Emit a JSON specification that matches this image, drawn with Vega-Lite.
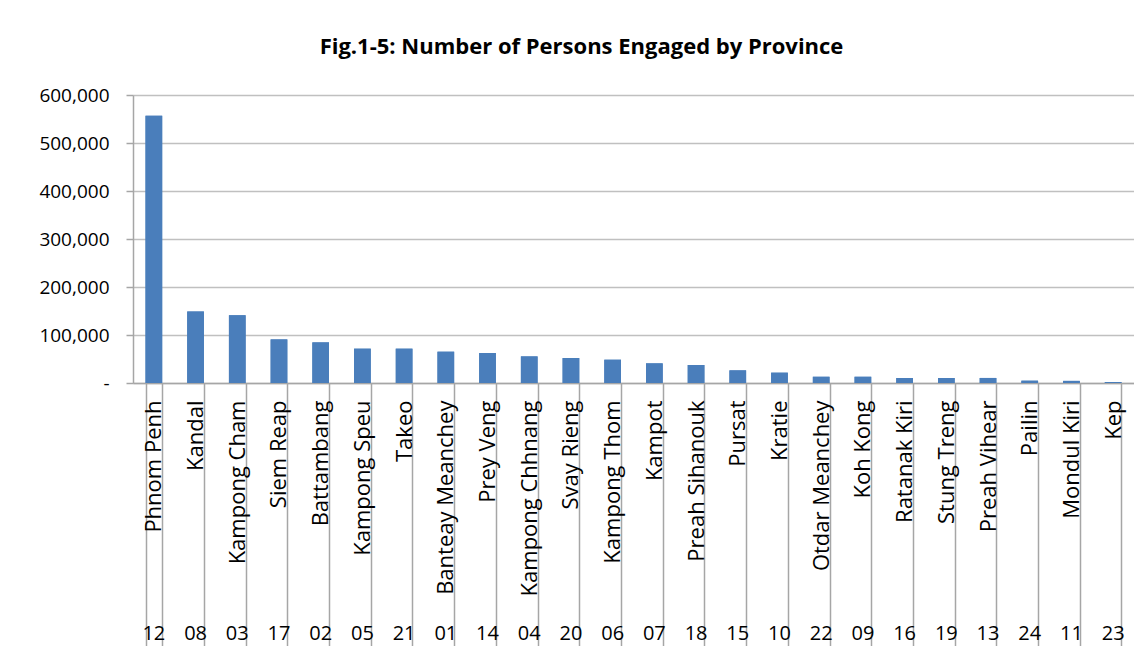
{
  "$schema": "https://vega.github.io/schema/vega-lite/v6.json",
  "width": 1001,
  "height": 288,
  "autosize": {"type": "none"},
  "padding": {"left": 133, "top": 95, "right": 0, "bottom": 263},
  "background": "white",
  "title": {
    "text": "Fig.1-5: Number of Persons Engaged by Province",
    "font": "Open Sans",
    "fontSize": 22,
    "fontWeight": "bold",
    "color": "#000000",
    "anchor": "middle",
    "dx": -52,
    "offset": 27
  },
  "config": {"view": {"stroke": null}, "font": "Open Sans"},
  "data": {
    "values": [
      {"province": "Phnom Penh", "code": "12", "persons": 557000},
      {"province": "Kandal", "code": "08", "persons": 149200},
      {"province": "Kampong Cham", "code": "03", "persons": 141000},
      {"province": "Siem Reap", "code": "17", "persons": 90800},
      {"province": "Battambang", "code": "02", "persons": 84600},
      {"province": "Kampong Speu", "code": "05", "persons": 71500},
      {"province": "Takeo", "code": "21", "persons": 71500},
      {"province": "Banteay Meanchey", "code": "01", "persons": 65200},
      {"province": "Prey Veng", "code": "14", "persons": 62500},
      {"province": "Kampong Chhnang", "code": "04", "persons": 55400},
      {"province": "Svay Rieng", "code": "20", "persons": 52000},
      {"province": "Kampong Thom", "code": "06", "persons": 48500},
      {"province": "Kampot", "code": "07", "persons": 40900},
      {"province": "Preah Sihanouk", "code": "18", "persons": 37500},
      {"province": "Pursat", "code": "15", "persons": 26300},
      {"province": "Kratie", "code": "10", "persons": 21500},
      {"province": "Otdar Meanchey", "code": "22", "persons": 13000},
      {"province": "Koh Kong", "code": "09", "persons": 13000},
      {"province": "Ratanak Kiri", "code": "16", "persons": 10400},
      {"province": "Stung Treng", "code": "19", "persons": 10400},
      {"province": "Preah Vihear", "code": "13", "persons": 10500},
      {"province": "Pailin", "code": "24", "persons": 4800},
      {"province": "Mondul Kiri", "code": "11", "persons": 4400},
      {"province": "Kep", "code": "23", "persons": 2000}
    ]
  },
  "layer": [
    {
      "mark": {"type": "bar", "color": "#4a7ebb"},
      "encoding": {
        "x": {
          "field": "province",
          "type": "nominal",
          "sort": null,
          "scale": {"paddingInner": 0.6, "paddingOuter": 0.3},
          "axis": {
            "title": null,
            "orient": "bottom",
            "labelAngle": -90,
            "labelAlign": "right",
            "labelBaseline": "middle",
            "labelFontSize": 22,
            "labelColor": "#000000",
            "labelPadding": -246,
            "labelOverlap": false,
            "labelBound": false,
            "labelLimit": 0,
            "tickBand": "extent",
            "tickSize": 263,
            "tickColor": "#a6a6a6",
            "tickWidth": 1.5,
            "domainColor": "#a6a6a6",
            "domainWidth": 1.5
          }
        },
        "y": {
          "field": "persons",
          "type": "quantitative",
          "scale": {"domain": [0, 600000], "nice": false},
          "axis": {
            "title": null,
            "values": [0, 100000, 200000, 300000, 400000, 500000, 600000],
            "labelExpr": "datum.value === 0 ? '-' : format(datum.value, ',')",
            "labelFontSize": 19,
            "labelColor": "#000000",
            "labelPadding": 17,
            "tickSize": 7,
            "tickColor": "#a6a6a6",
            "tickWidth": 1.5,
            "domainColor": "#a6a6a6",
            "domainWidth": 1.5,
            "grid": true,
            "gridColor": "#c0c0c0",
            "gridWidth": 1.5
          }
        }
      }
    },
    {
      "mark": {"type": "bar", "color": "#4a7ebb"},
      "encoding": {
        "x": {
          "field": "code",
          "type": "nominal",
          "sort": null,
          "scale": {"paddingInner": 0.6, "paddingOuter": 0.3},
          "axis": {
            "title": null,
            "orient": "bottom",
            "labelAngle": 0,
            "ticks": false,
            "domain": false,
            "labelPadding": 240,
            "labelBaseline": "top",
            "labelFontSize": 20,
            "labelColor": "#000000",
            "labelOverlap": false,
            "labelBound": false
          }
        },
        "y": {"field": "persons", "type": "quantitative"}
      }
    }
  ],
  "resolve": {"scale": {"x": "independent"}, "axis": {"x": "independent"}}
}
